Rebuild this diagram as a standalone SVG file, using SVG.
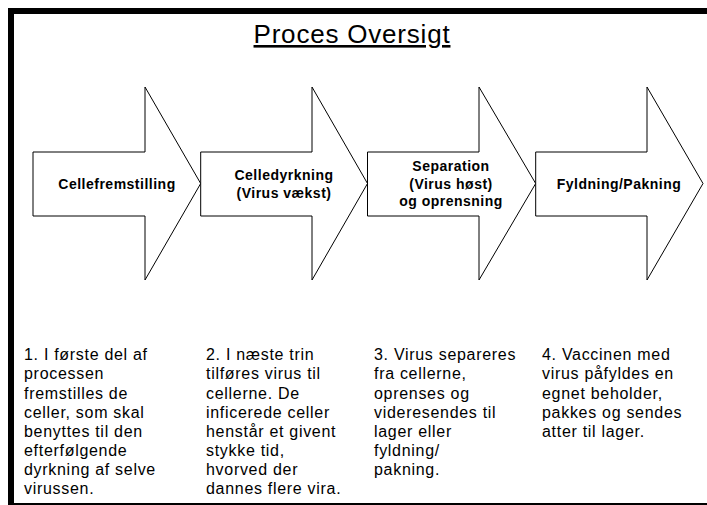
<svg xmlns="http://www.w3.org/2000/svg" width="707" height="505" viewBox="0 0 707 505">
<style>
.frame{fill:none;stroke:#000;stroke-width:6}
.arrow{fill:#fff;stroke:#000;stroke-width:1}
.lbl{font-family:"Liberation Sans",Arial,sans-serif;font-weight:bold;font-size:14px;letter-spacing:0.5px;text-anchor:middle;fill:#000}
.body{font-family:"Liberation Sans",Arial,sans-serif;font-size:16px;letter-spacing:0.7px;fill:#000}
.title{font-family:"Liberation Sans",Arial,sans-serif;font-size:26px;letter-spacing:0.8px;text-anchor:middle;text-decoration:underline;fill:#000}
</style>
<rect class="frame" x="11" y="11" width="710" height="495"/>
<text class="title" x="352" y="43">Proces Oversigt</text>
<g id="connectors"/>
<g id="step1">
<path class="arrow" d="M33,152 L145,152 L145,87 L200.7,183.5 L145,280 L145,216 L33,216 Z"/>
<text class="lbl" x="117" y="189">Cellefremstilling</text>
</g>
<g id="step2">
<path class="arrow" d="M200.7,152 L312,152 L312,87 L367.5,183.5 L312,280 L312,216 L200.7,216 Z"/>
<text class="lbl" x="284" y="180">Celledyrkning</text>
<text class="lbl" x="284" y="197.5">(Virus vækst)</text>
</g>
<g id="step3">
<path class="arrow" d="M367.5,152 L479,152 L479,87 L535.7,183.5 L479,280 L479,216 L367.5,216 Z"/>
<text class="lbl" x="451" y="171">Separation</text>
<text class="lbl" x="451" y="188.5">(Virus høst)</text>
<text class="lbl" x="451" y="206">og oprensning</text>
</g>
<g id="step4">
<path class="arrow" d="M535.7,152 L647,152 L647,87 L703,183.5 L647,280 L647,216 L535.7,216 Z"/>
<text class="lbl" x="619" y="189">Fyldning/Pakning</text>
</g>
<g id="desc1">
<text class="body" x="24" y="360">1. I første del af</text>
<text class="body" x="24" y="379">processen</text>
<text class="body" x="24" y="398.5">fremstilles de</text>
<text class="body" x="24" y="418">celler, som skal</text>
<text class="body" x="24" y="437">benyttes til den</text>
<text class="body" x="24" y="456">efterfølgende</text>
<text class="body" x="24" y="475">dyrkning af selve</text>
<text class="body" x="24" y="494">virussen.</text>
</g>
<g id="desc2">
<text class="body" x="206" y="360">2. I næste trin</text>
<text class="body" x="206" y="379">tilføres virus til</text>
<text class="body" x="206" y="398.5">cellerne. De</text>
<text class="body" x="206" y="418">inficerede celler</text>
<text class="body" x="206" y="437">henstår et givent</text>
<text class="body" x="206" y="456">stykke tid,</text>
<text class="body" x="206" y="475">hvorved der</text>
<text class="body" x="206" y="494">dannes flere vira.</text>
</g>
<g id="desc3">
<text class="body" x="374" y="360">3. Virus separeres</text>
<text class="body" x="374" y="379">fra cellerne,</text>
<text class="body" x="374" y="398.5">oprenses og</text>
<text class="body" x="374" y="418">videresendes til</text>
<text class="body" x="374" y="437">lager eller</text>
<text class="body" x="374" y="456">fyldning/</text>
<text class="body" x="374" y="475">pakning.</text>
</g>
<g id="desc4">
<text class="body" x="542" y="360">4. Vaccinen med</text>
<text class="body" x="542" y="379">virus påfyldes en</text>
<text class="body" x="542" y="398.5">egnet beholder,</text>
<text class="body" x="542" y="418">pakkes og sendes</text>
<text class="body" x="542" y="437">atter til lager.</text>
</g>
</svg>
